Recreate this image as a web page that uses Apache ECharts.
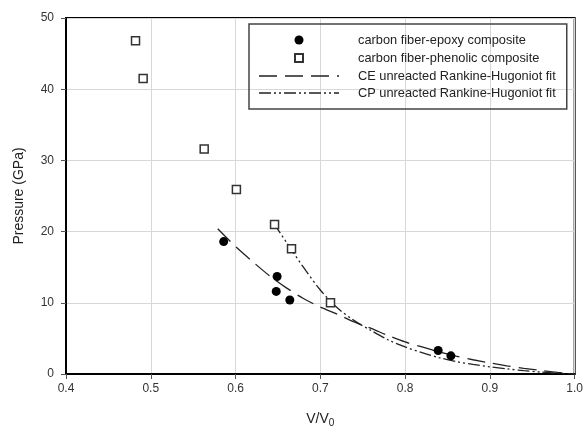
<!DOCTYPE html>
<html>
<head>
<meta charset="utf-8">
<script src="https://cdn.jsdelivr.net/npm/echarts@6/dist/echarts.min.js"></script>
<style>
  html,body{margin:0;padding:0;background:#fff;}
  #chart{width:586px;height:433px;}
</style>
</head>
<body>
<div id="chart"></div>
<script>
// measured points, V/V0 vs pressure (GPa)
var epoxyPts = [[0.586, 18.6], [0.649, 13.7], [0.648, 11.6], [0.664, 10.4], [0.839, 3.3], [0.854, 2.55]];
var phenolicPts = [[0.482, 46.8], [0.491, 41.5], [0.563, 31.6], [0.601, 25.9], [0.646, 21.0], [0.666, 17.6], [0.712, 10.0]];
// fit curves
var ceFitX = [0.579, 0.60, 0.62, 0.64, 0.66, 0.68, 0.70, 0.72, 0.74, 0.76, 0.78, 0.80, 0.82, 0.84, 0.86, 0.88, 0.90, 0.92, 0.94, 0.96, 0.98, 1.0];
var ceFitY = [20.4, 17.9, 15.8, 13.8, 12.1, 10.6, 9.4, 8.4, 7.3, 6.4, 5.4, 4.5, 3.8, 3.1, 2.5, 2.0, 1.55, 1.15, 0.8, 0.5, 0.22, 0];
var cpFitX = [0.645, 0.66, 0.68, 0.70, 0.72, 0.74, 0.76, 0.78, 0.80, 0.82, 0.84, 0.86, 0.88, 0.90, 0.92, 0.94, 0.96, 0.98, 1.0];
var cpFitY = [21.2, 18.5, 15.0, 11.8, 9.3, 7.5, 6.1, 4.8, 3.8, 3.0, 2.3, 1.75, 1.35, 1.0, 0.72, 0.47, 0.27, 0.11, 0];

var names = ['carbon fiber-epoxy composite', 'carbon fiber-phenolic composite',
             'CE unreacted Rankine-Hugoniot fit', 'CP unreacted Rankine-Hugoniot fit'];

function pairs(xs, ys){
  return xs.map(function(x, i){ return [x, ys[i]]; });
}

// legend icons: the leading moves pin the bounding box to the 80x14 item so the marks keep their size
function dashIcon(segs){
  var p = 'path://M0,0M80,14';
  segs.forEach(function(s){
    p += 'M' + s[0] + ',6.35L' + s[1] + ',6.35L' + s[1] + ',7.65L' + s[0] + ',7.65Z';
  });
  return p;
}
var dotIcon = 'path://M0,0M80,14M44.5,7A4.5,4.5,0,1,1,35.5,7A4.5,4.5,0,1,1,44.5,7Z';
var boxIcon = 'path://M0,0M80,14M36,3L44,3L44,11L36,11Z';
var ceIcon = dashIcon([[0, 18], [26, 44], [52, 70], [78, 80]]);
var cpIcon = dashIcon([[0, 12], [15, 17], [20, 22], [25, 37], [40, 42], [45, 47], [50, 62], [65, 67], [70, 72], [75, 80]]);

var font = "'Liberation Sans', Arial, sans-serif";
var chart = echarts.init(document.getElementById('chart'));
chart.setOption({
  animation: false,
  textStyle: {fontFamily: font},
  grid: {
    left: 66, right: 11, top: 18, bottom: 59,
    show: true, borderColor: '#000', borderWidth: 2
  },
  legend: {
    orient: 'vertical',
    left: 249, top: 24,
    padding: [9, 11, 9, 9],
    borderColor: '#444', borderWidth: 1.5,
    itemWidth: 80, itemHeight: 14, itemGap: 3,
    textStyle: {fontSize: 12.8, color: '#222', fontFamily: font, padding: [0, 0, 0, 14]},
    data: [
      {name: names[0], icon: dotIcon},
      {name: names[1], icon: boxIcon},
      {name: names[2], icon: ceIcon, itemStyle: {color: '#222', borderWidth: 0}},
      {name: names[3], icon: cpIcon, itemStyle: {color: '#222', borderWidth: 0}}
    ]
  },
  xAxis: {
    type: 'value', min: 0.4, max: 1.0, interval: 0.1,
    name: 'V/V{sub|0}',
    nameLocation: 'middle', nameGap: 36,
    nameTextStyle: {
      fontSize: 14, color: '#222',
      rich: {sub: {fontSize: 10, color: '#222', verticalAlign: 'bottom', padding: [8, 0, 0, 0]}}
    },
    axisLine: {lineStyle: {color: '#000', width: 2}},
    axisTick: {show: true, inside: false, length: 5, lineStyle: {color: '#555'}},
    axisLabel: {fontSize: 12, color: '#333', margin: 9, formatter: function(v){ return v.toFixed(1); }},
    splitLine: {show: true, lineStyle: {color: '#d8d8d8', width: 1}}
  },
  yAxis: {
    type: 'value', min: 0, max: 50, interval: 10,
    name: 'Pressure (GPa)',
    nameLocation: 'middle', nameGap: 40,
    nameTextStyle: {fontSize: 14, color: '#222'},
    axisLine: {show: true, lineStyle: {color: '#000', width: 2}},
    axisTick: {show: true, inside: false, length: 5, lineStyle: {color: '#555'}},
    axisLabel: {fontSize: 12, color: '#333', margin: 12},
    splitLine: {show: true, lineStyle: {color: '#d8d8d8', width: 1}}
  },
  series: [
    {
      name: names[0], type: 'scatter', symbol: 'circle', symbolSize: 9,
      itemStyle: {color: '#000', opacity: 1},
      data: epoxyPts, z: 4
    },
    {
      name: names[1], type: 'scatter', symbol: 'rect', symbolSize: 8,
      itemStyle: {color: '#fff', borderColor: '#333', borderWidth: 1.5, opacity: 1},
      data: phenolicPts, z: 5
    },
    {
      name: names[2], type: 'line', symbol: 'none', showSymbol: false, smooth: 0.3,
      lineStyle: {color: '#222', width: 1.3, type: [18, 8]},
      itemStyle: {color: '#222'},
      data: pairs(ceFitX, ceFitY), z: 3
    },
    {
      name: names[3], type: 'line', symbol: 'none', showSymbol: false, smooth: 0.3,
      lineStyle: {color: '#222', width: 1.3, type: [12, 3, 2, 3, 2, 3]},
      itemStyle: {color: '#222'},
      data: pairs(cpFitX, cpFitY), z: 3
    }
  ]
});
</script>
</body>
</html>
